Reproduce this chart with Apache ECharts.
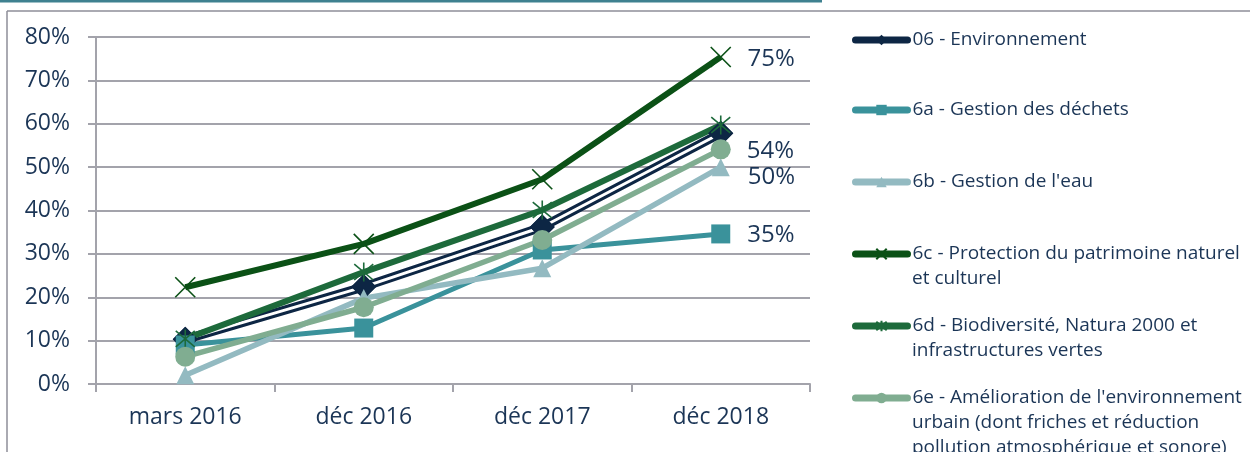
<!DOCTYPE html>
<html><head><meta charset="utf-8">
<script src="https://cdn.jsdelivr.net/npm/echarts@6/dist/echarts.min.js"></script>
<style>html,body{margin:0;padding:0;background:#fff}#c{width:1250px;height:452px}</style>
</head><body><div id="c"></div>
<script>
const categories = ['mars 2016', 'déc 2016', 'déc 2017', 'déc 2018'];
const names = ['06 - Environnement', '6a - Gestion des déchets', '6b - Gestion de l\'eau',
  '6c - Protection du patrimoine naturel', '6d - Biodiversité, Natura 2000 et',
  '6e - Amélioration de l\'environnement'];
const legendExtraLines = [[], [], [], ['et culturel'], ['infrastructures vertes'],
  ['urbain (dont friches et réduction', 'pollution atmosphérique et sonore)']];
const envValues = [10.3, 22.4, 36.2, 57.8];
const dechetsValues = [9.0, 12.9, 30.9, 34.6];
const eauValues = [2.0, 19.8, 26.7, 50.0];
const patrimoineValues = [22.3, 32.3, 47.2, 75.4];
const biodivValues = [10.4, 25.8, 40.1, 59.7];
const urbainValues = [6.3, 17.7, 33.2, 54.1];

const FONT = '"Open Sans", sans-serif';
const TXT = '#1b3556';
const GRID = '#a3a3ab';
const xPath = 'path://M0,0L20,20M20,0L0,20';
const starPath = 'path://M0,0L20,20M20,0L0,20M10,-2L10,22';

function lastLabel(offsetY, dist) {
  return {
    show: true, position: 'right', distance: dist, offset: [0, offsetY],
    fontFamily: FONT, fontSize: 24, color: TXT,
    formatter: p => p.dataIndex === categories.length - 1 ? Math.round(p.value) + '%' : ''
  };
}

const chart = echarts.init(document.getElementById('c'), null, {renderer: 'canvas'});
const legendTops = [40, 110, 182, 254, 326, 398];
const legends = names.map((n, i) => ({
  data: [n], left: 852, top: legendTops[i] - 10, padding: 0,
  itemWidth: 52, itemHeight: 13, itemGap: 5, selectedMode: false,
  lineStyle: {width: 7, cap: 'round'},
  textStyle: {fontFamily: FONT, fontSize: 19, color: TXT, lineHeight: 20}
}));
const graphics = [
  {type: 'rect', shape: {x: 0, y: 0, width: 822, height: 2.5}, style: {fill: '#3f8190'}, silent: true},
  {type: 'line', shape: {x1: 7, y1: 11, x2: 1250, y2: 11}, style: {stroke: '#8e8e98', lineWidth: 1.5}, silent: true},
  {type: 'line', shape: {x1: 7, y1: 11, x2: 7, y2: 452}, style: {stroke: '#8e8e98', lineWidth: 1.5}, silent: true}
];
legendExtraLines.forEach((lines, i) => {
  lines.forEach((t, j) => {
    graphics.push({type: 'text', left: 912, top: legendTops[i] + 24.3 * (j + 1) - 9,
      style: {text: t, fontFamily: FONT, fontSize: 19, fill: TXT}, silent: true});
  });
});

const option = {
  animation: false,
  backgroundColor: '#fff',
  grid: {left: 96, right: 440, top: 37, bottom: 68},
  legend: legends,
  graphic: graphics,
  xAxis: {
    type: 'category', data: categories, boundaryGap: true,
    axisLine: {lineStyle: {color: GRID, width: 2}},
    axisTick: {show: true, length: 8, lineStyle: {color: GRID, width: 2}},
    axisLabel: {fontFamily: FONT, fontSize: 23, color: TXT, margin: 22}
  },
  yAxis: {
    type: 'value', min: 0, max: 80, interval: 10,
    axisLine: {show: true, lineStyle: {color: GRID, width: 2}},
    axisTick: {show: true, length: 8, lineStyle: {color: GRID, width: 2}},
    splitLine: {lineStyle: {color: GRID, width: 2}},
    axisLabel: {fontFamily: FONT, fontSize: 23, color: TXT, margin: 26, formatter: '{value}%'}
  },
  series: [
    {name: names[0], type: 'line', data: envValues, color: '#0d2644',
      lineStyle: {width: 9, color: '#0d2644'}, symbol: 'diamond', symbolSize: 25,
      itemStyle: {color: '#0d2644'}, z: 2},
    {name: 'env-core', type: 'line', data: envValues, symbol: 'none',
      lineStyle: {width: 3, color: '#ffffff'}, z: 2},
    {name: 'env-markers', type: 'line', data: envValues, symbol: 'diamond', symbolSize: 25,
      lineStyle: {width: 0, opacity: 0}, itemStyle: {color: '#0d2644'}, z: 2},
    {name: names[1], type: 'line', data: dechetsValues, color: '#3a929b',
      lineStyle: {width: 5, color: '#3a929b'}, symbol: 'rect', symbolSize: 19,
      itemStyle: {color: '#3a929b'}, label: lastLabel(1, 17), z: 2},
    {name: names[2], type: 'line', data: eauValues, color: '#93bac1',
      lineStyle: {width: 5.5, color: '#93bac1'}, symbol: 'triangle', symbolSize: 18,
      itemStyle: {color: '#93bac1'}, label: lastLabel(10, 18), z: 2},
    {name: names[3], type: 'line', data: patrimoineValues, color: '#0b5116',
      lineStyle: {width: 6, color: '#0b5116'}, symbol: xPath, symbolSize: 20,
      itemStyle: {color: '#0b5116', borderColor: '#0b5116', borderWidth: 1.6}, label: lastLabel(2, 16), z: 2},
    {name: names[4], type: 'line', data: biodivValues, color: '#1d6a3b',
      lineStyle: {width: 6, color: '#1d6a3b'}, symbol: starPath, symbolSize: 19,
      itemStyle: {color: '#1d6a3b', borderColor: '#1d6a3b', borderWidth: 1.6}, z: 2},
    {name: names[5], type: 'line', data: urbainValues, color: '#80ad91',
      lineStyle: {width: 5.5, color: '#80ad91'}, symbol: 'circle', symbolSize: 20,
      itemStyle: {color: '#80ad91'}, label: lastLabel(2, 16), z: 2}
  ]
};
chart.setOption(option);
</script></body></html>
